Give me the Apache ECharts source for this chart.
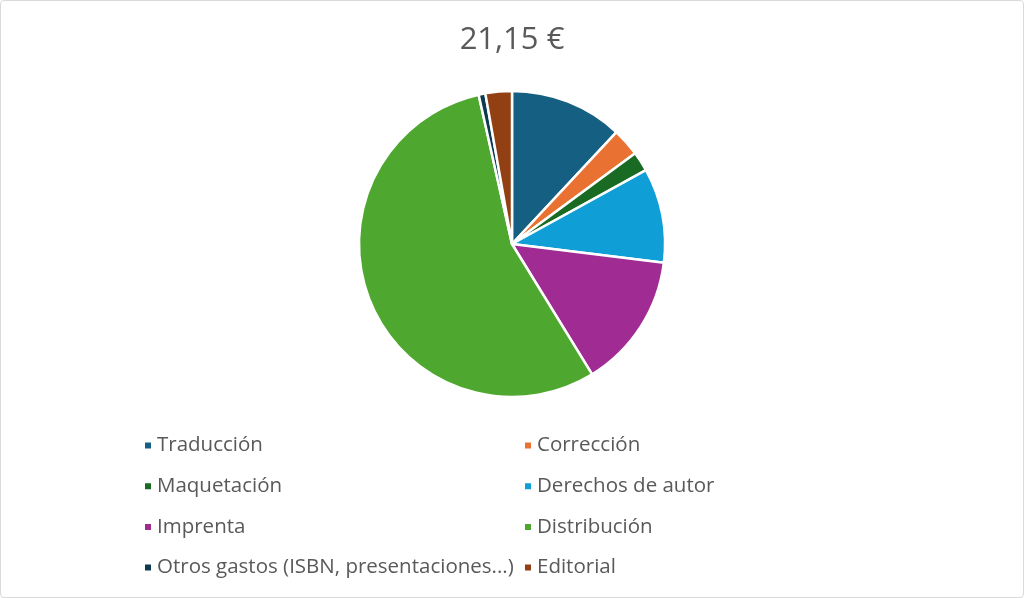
<!DOCTYPE html>
<html>
<head>
<meta charset="utf-8">
<script src="https://cdn.jsdelivr.net/npm/echarts@6/dist/echarts.min.js"></script>
<style>
  html, body { margin: 0; padding: 0; background: #fff; }
  #chart { width: 1022px; height: 596px; border: 1px solid #d9d9d9; border-radius: 4px; }
</style>
</head>
<body>
<div id="chart"></div>
<script>
// datos del gráfico (euros)
var categories = ['Traducción', 'Corrección', 'Maquetación', 'Derechos de autor',
     'Imprenta', 'Distribución', 'Otros gastos (ISBN, presentaciones...)', 'Editorial'];
var values = [2.53, 0.62, 0.44, 2.11, 3.02, 11.69, 0.15, 0.59];
var colors = ['#156082', '#E97132', '#196B24', '#0F9ED5', '#A02B93', '#4EA72E', '#0C3A4F', '#933F14'];
var titleText = '21,15 €';

var leftItems = [categories[0], categories[2], categories[4], categories[6]];
var rightItems = [categories[1], categories[3], categories[5], categories[7]];

var chart = echarts.init(document.getElementById('chart'));

var pieData = [];
for (var i = 0; i < categories.length; i++) {
     pieData.push({ name: categories[i], value: values[i], itemStyle: { color: colors[i] } });
}

function legendCol(items, left) {
     return {
          orient: 'vertical',
          left: left,
          top: 429,
          data: items,
          icon: 'rect',
          itemWidth: 8,
          itemHeight: 8,
          itemGap: 19.7,
          selectedMode: false,
          textStyle: {
               fontFamily: 'Open Sans',
               fontSize: 20.5,
               lineHeight: 20,
               color: '#595959'
          }
     };
}

chart.setOption({
     animation: false,
     title: {
          text: titleText,
          left: 'center',
          top: 19,
          textStyle: {
               fontFamily: 'Open Sans',
               fontSize: 31,
               fontWeight: 'normal',
               color: '#595959'
          }
     },
     legend: [legendCol(leftItems, 137), legendCol(rightItems, 517)],
     series: [{
          type: 'pie',
          center: [511, 243],
          radius: [0, 153],
          startAngle: 90,
          clockwise: true,
          label: { show: false },
          labelLine: { show: false },
          itemStyle: { borderColor: '#fff', borderWidth: 2.5 },
          emphasis: { disabled: true },
          data: pieData
     }]
});
</script>
</body>
</html>
